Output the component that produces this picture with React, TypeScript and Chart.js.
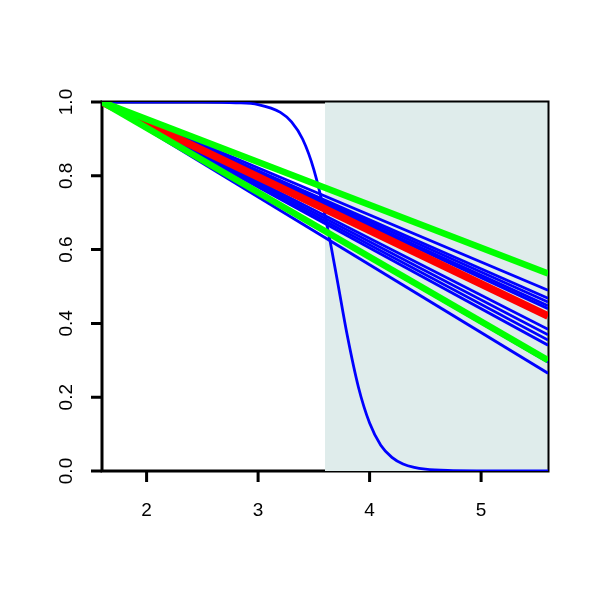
import React, { useEffect, useRef } from "react";
import { Chart, registerables } from "chart.js";

Chart.register(...registerables);

// x extent of the straight curves
const lineX = [1.6, 5.6];
// straight blue curves: value at x=1.6 and x=5.6
const blueStart = [1.0, 1.0, 1.0, 1.0, 1.0, 1.0, 1.0, 1.0, 1.0, 1.0, 1.0];
const blueEnd = [0.49, 0.468, 0.458, 0.448, 0.44, 0.384, 0.369, 0.355, 0.341, 0.295, 0.265];
// red curve
const redValues = [1.0, 0.42];
// green curves
const greenTop = [1.0, 0.535];
const greenBottom = [1.0, 0.3];
// steep blue sigmoid curve
const sigX = [1.6, 2.0, 2.5, 2.8, 3.0, 3.2, 3.3, 3.4, 3.5, 3.6, 3.7, 3.8, 3.9, 4.0, 4.1, 4.2, 4.3, 4.4, 4.5, 4.7, 5.0, 5.6];
const sigY = [1.0, 1.0, 0.9998, 0.998, 0.993, 0.972, 0.946, 0.899, 0.817, 0.693, 0.534, 0.367, 0.227, 0.13, 0.07, 0.037, 0.019, 0.0097, 0.005, 0.0013, 0.0002, 0.0];
// shaded region
const shadeX = [3.6, 5.6];
// ticks
const xTicks = [2, 3, 4, 5];
const yTicks = [0, 0.2, 0.4, 0.6, 0.8, 1.0];
const yTickLabels = ["0.0", "0.2", "0.4", "0.6", "0.8", "1.0"];

const toPts = (xs: number[], ys: number[]) => xs.map((x, i) => ({ x, y: ys[i] }));

export default function App() {
  const ref = useRef<HTMLCanvasElement>(null);
  useEffect(() => {
    if (!ref.current) return;
    const datasets: any[] = [];
    datasets.push({
      data: toPts(sigX, sigY),
      borderColor: "#0000ff",
      borderWidth: 2.8,
      cubicInterpolationMode: "monotone",
      order: 3,
    });
    blueEnd.forEach((e, i) => {
      datasets.push({
        data: toPts(lineX, [blueStart[i], e]),
        borderColor: "#0000ff",
        borderWidth: 2.8,
        order: 3,
      });
    });
    datasets.push({ data: toPts(lineX, redValues), borderColor: "#ff0000", borderWidth: 7.5, order: 2 });
    datasets.push({ data: toPts(lineX, greenTop), borderColor: "#00ff00", borderWidth: 6.5, order: 1 });
    datasets.push({ data: toPts(lineX, greenBottom), borderColor: "#00ff00", borderWidth: 6.5, order: 1 });

    const deco = {
      id: "deco",
      beforeDatasetsDraw(chart: any) {
        const { ctx, chartArea: a, scales } = chart;
        const xs = scales.x, ys = scales.y;
        ctx.save();
        ctx.strokeStyle = "#000";
        ctx.lineWidth = 3;
        ctx.strokeRect(a.left, a.top, a.right - a.left, a.bottom - a.top);
        const x0 = xs.getPixelForValue(shadeX[0]);
        const x1 = xs.getPixelForValue(shadeX[1]);
        const yT = ys.getPixelForValue(1);
        const yB = ys.getPixelForValue(0);
        ctx.fillStyle = "#dfeceb";
        ctx.fillRect(x0, yT, x1 - x0, yB - yT);
        ctx.lineWidth = 1;
        ctx.beginPath();
        ctx.moveTo(x0, yT);
        ctx.lineTo(x1, yT);
        ctx.lineTo(x1, yB);
        ctx.stroke();
        // ticks
        ctx.lineWidth = 3;
        ctx.beginPath();
        xTicks.forEach((t) => {
          const p = xs.getPixelForValue(t);
          ctx.moveTo(p, a.bottom);
          ctx.lineTo(p, a.bottom + 11);
        });
        yTicks.forEach((t) => {
          const p = ys.getPixelForValue(t);
          ctx.moveTo(a.left, p);
          ctx.lineTo(a.left - 11, p);
        });
        ctx.stroke();
        ctx.fillStyle = "#000";
        ctx.font = "19px 'Liberation Sans', Arial, sans-serif";
        ctx.textAlign = "center";
        ctx.textBaseline = "middle";
        xTicks.forEach((t) => {
          ctx.fillText(String(t), xs.getPixelForValue(t), a.bottom + 40);
        });
        yTicks.forEach((t, i) => {
          ctx.save();
          ctx.translate(a.left - 35, ys.getPixelForValue(t));
          ctx.rotate(-Math.PI / 2);
          ctx.fillText(yTickLabels[i], 0, 0);
          ctx.restore();
        });
        ctx.restore();
      },
    };

    const chart = new Chart(ref.current, {
      type: "line",
      data: { datasets },
      options: {
        animation: false,
        responsive: false,
        parsing: false as any,
        layout: { padding: { left: 102, top: 102, right: 52, bottom: 129 } },
        elements: { point: { radius: 0 }, line: { tension: 0, borderCapStyle: "butt" } },
        plugins: { legend: { display: false }, tooltip: { enabled: false } },
        scales: {
          x: { type: "linear", min: 1.6, max: 5.6, display: false },
          y: { type: "linear", min: 0, max: 1, display: false },
        },
      },
      plugins: [deco],
    });
    return () => chart.destroy();
  }, []);
  return (
    <div style={{ position: "fixed", left: 0, top: 0, width: 600, height: 600, background: "#fff" }}>
      <canvas ref={ref} width={600} height={600} />
    </div>
  );
}
